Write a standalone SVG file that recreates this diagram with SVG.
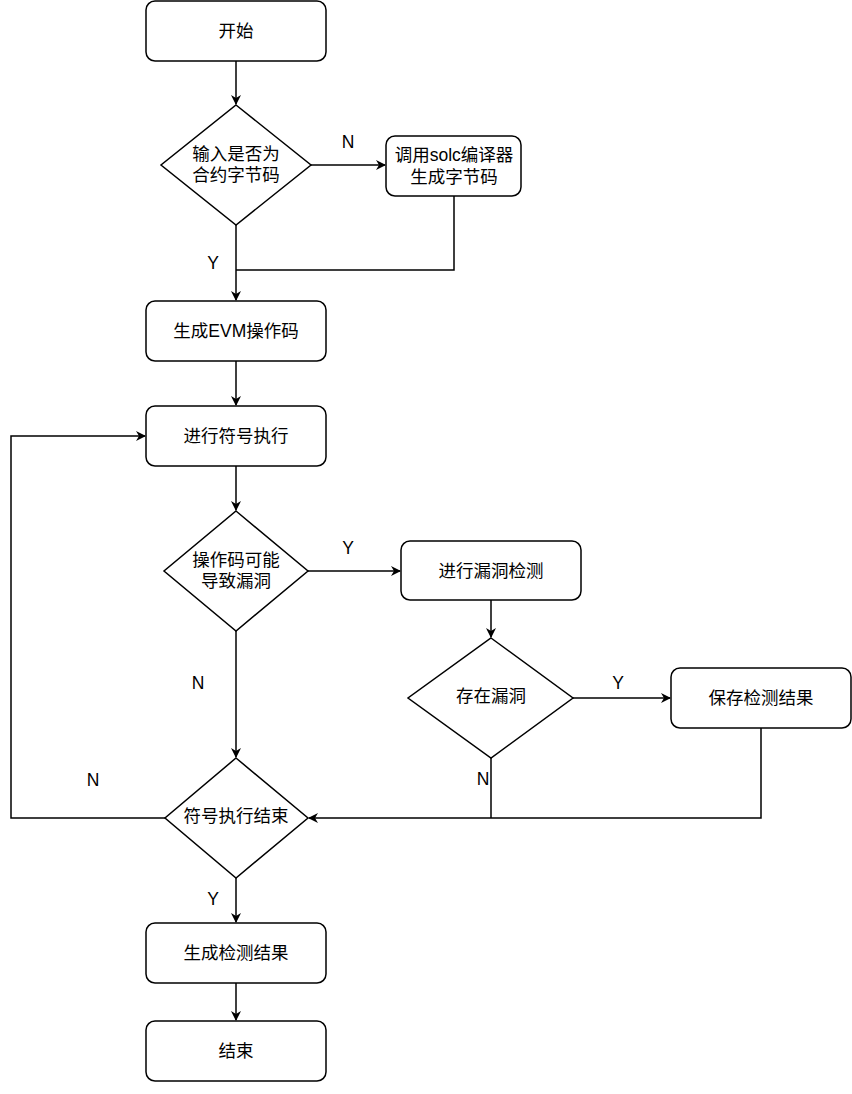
<svg xmlns="http://www.w3.org/2000/svg" width="852" height="1094" viewBox="0 0 852 1094">
<style>
.n{fill:#fff;stroke:#000;stroke-width:1.5}
.t{font-family:"Liberation Sans","Noto Sans CJK SC",sans-serif;font-size:17.5px;fill:#000;text-anchor:middle;dominant-baseline:central}
.l{font-family:"Liberation Sans","Noto Sans CJK SC",sans-serif;font-size:17.5px;fill:#000;text-anchor:middle;dominant-baseline:central}
.c{fill:none;stroke:#000;stroke-width:1.5}
</style>
<defs>
<marker id="a" viewBox="0 0 10 10" refX="9" refY="5" markerWidth="10" markerHeight="10" markerUnits="userSpaceOnUse" orient="auto">
<path d="M0,0 L10,5 L0,10 L3,5 Z" fill="#000"/>
</marker>
</defs>
<g id="connectors">
<path class="c" d="M236,61 V104" marker-end="url(#a)"/>
<path class="c" d="M311,165 H385" marker-end="url(#a)"/>
<path class="c" d="M236,225 V300" marker-end="url(#a)"/>
<path class="c" d="M454,196 V270 H236"/>
<path class="c" d="M236,361 V405" marker-end="url(#a)"/>
<path class="c" d="M236,466 V510" marker-end="url(#a)"/>
<path class="c" d="M308,571 H400" marker-end="url(#a)"/>
<path class="c" d="M491,600 V637" marker-end="url(#a)"/>
<path class="c" d="M573,698 H670" marker-end="url(#a)"/>
<path class="c" d="M236,631 V757" marker-end="url(#a)"/>
<path class="c" d="M165,818 H11 V436 H145" marker-end="url(#a)"/>
<path class="c" d="M491,758 V818"/>
<path class="c" d="M761,728 V818 H309" marker-end="url(#a)"/>
<path class="c" d="M236,878 V922" marker-end="url(#a)"/>
<path class="c" d="M236,983 V1020" marker-end="url(#a)"/>
<text class="l" x="348" y="142">N</text>
<text class="l" x="213" y="263">Y</text>
<text class="l" x="348" y="548">Y</text>
<text class="l" x="198" y="683">N</text>
<text class="l" x="618" y="683">Y</text>
<text class="l" x="93" y="780">N</text>
<text class="l" x="483" y="779">N</text>
<text class="l" x="213" y="899">Y</text>
</g>
<g id="start"><rect class="n" x="146" y="1" width="180" height="60" rx="9"/><text class="t" x="236" y="31">开始</text></g>
<g id="d1"><polygon class="n" points="236,105 311,165 236,225 161,165"/><text class="t" x="236" y="154">输入是否为</text><text class="t" x="236" y="175">合约字节码</text></g>
<g id="solc"><rect class="n" x="386" y="136" width="135" height="60" rx="9"/><text class="t" x="454" y="155">调用solc编译器</text><text class="t" x="454" y="177">生成字节码</text></g>
<g id="evm"><rect class="n" x="146" y="301" width="180" height="60" rx="9"/><text class="t" x="236" y="331">生成EVM操作码</text></g>
<g id="sym"><rect class="n" x="146" y="406" width="180" height="60" rx="9"/><text class="t" x="236" y="436">进行符号执行</text></g>
<g id="d2"><polygon class="n" points="236,511 308,571 236,631 164,571"/><text class="t" x="236" y="560">操作码可能</text><text class="t" x="236" y="581">导致漏洞</text></g>
<g id="detect"><rect class="n" x="401" y="541" width="180" height="59" rx="9"/><text class="t" x="491" y="571">进行漏洞检测</text></g>
<g id="d3"><polygon class="n" points="491,638 573,698 491,758 408,698"/><text class="t" x="491" y="696">存在漏洞</text></g>
<g id="save"><rect class="n" x="671" y="668" width="180" height="60" rx="9"/><text class="t" x="761" y="698">保存检测结果</text></g>
<g id="d4"><polygon class="n" points="236,758 308,818 236,878 165,818"/><text class="t" x="236" y="816">符号执行结束</text></g>
<g id="result"><rect class="n" x="146" y="923" width="180" height="60" rx="9"/><text class="t" x="236" y="953">生成检测结果</text></g>
<g id="end"><rect class="n" x="146" y="1021" width="180" height="60" rx="9"/><text class="t" x="236" y="1051">结束</text></g>
</svg>
